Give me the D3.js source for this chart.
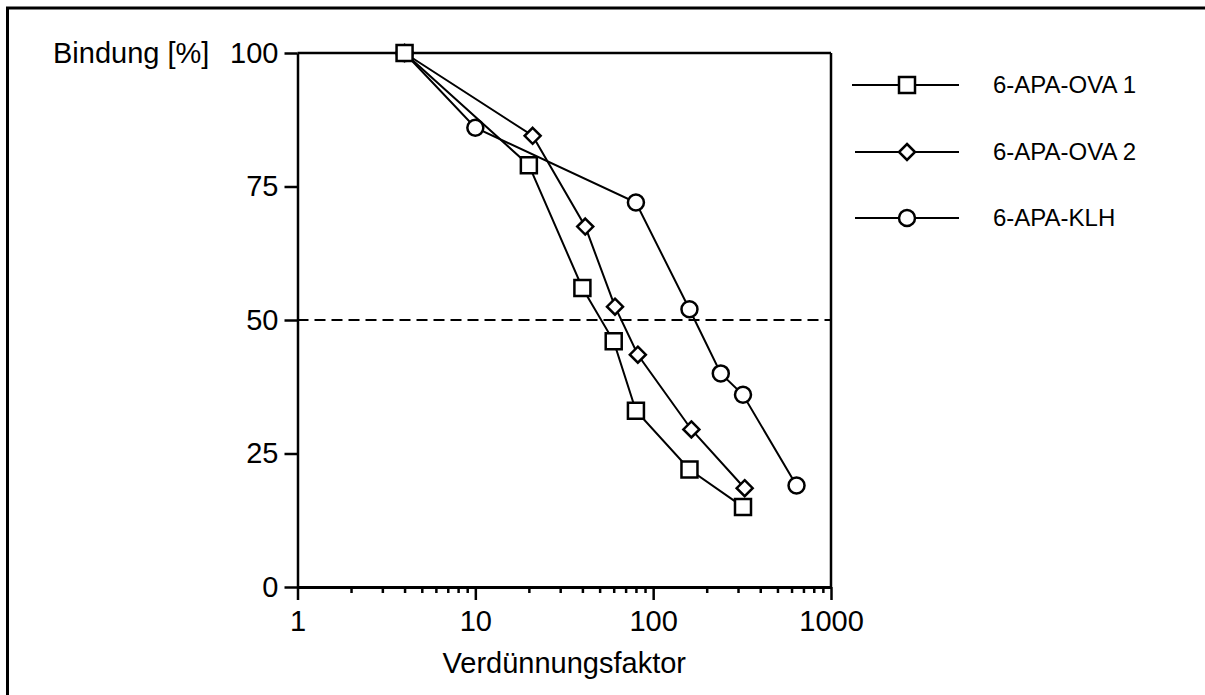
<!DOCTYPE html>
<html>
<head>
<meta charset="utf-8">
<script src="https://cdn.jsdelivr.net/npm/d3@7"></script>
<style>
  body { margin: 0; background: #fff; overflow: hidden; }
  svg { display: block; }
  text { font-family: "Liberation Sans", Arial, sans-serif; fill: #000; }
</style>
</head>
<body>
<script>
// series: [Verdünnungsfaktor, Bindung %]
const ova1 = [[4, 100], [20, 79], [40, 56], [60, 46], [80, 33], [160, 22], [320, 15]];
const ova2 = [[4, 100], [21, 84.5], [41.5, 67.5], [61, 52.5], [82, 43.5], [164, 29.5], [327, 18.5]];
const klh  = [[4, 100], [10, 86], [80, 72], [160, 52], [240, 40], [320, 36], [640, 19]];

const seriesNames = ['6-APA-OVA 1', '6-APA-OVA 2', '6-APA-KLH'];
const seriesShapes = ['square', 'diamond', 'circle'];
const xMajor = [1, 10, 100, 1000];
const yTicks = [0, 25, 50, 75, 100];
const refLine = 50;

const width = 1205;
const height = 695;
const fontSize = 29;

// scales
const xScale = d3.scaleLog().domain([1, 1000]).range([297.5, 831]);
const yScale = d3.scaleLinear().domain([0, 100]).range([587, 53]);

const svg = d3.select('body').append('svg')
  .attr('width', width)
  .attr('height', height);

// outer frame (only top and left visible)
svg.append('rect')
  .attr('x', 7.5).attr('y', 8)
  .attr('width', 1400).attr('height', 900)
  .attr('fill', 'none').attr('stroke', '#000').attr('stroke-width', 3);

// plot box top + right
svg.append('line')
  .attr('x1', xScale(1)).attr('x2', xScale(1000))
  .attr('y1', yScale(100)).attr('y2', yScale(100))
  .attr('stroke', '#000').attr('stroke-width', 2.5);
svg.append('line')
  .attr('x1', xScale(1000)).attr('x2', xScale(1000))
  .attr('y1', yScale(100)).attr('y2', yScale(0))
  .attr('stroke', '#000').attr('stroke-width', 2.5);

// minor x ticks
let xMinor = [];
[1, 10, 100].forEach(function(d) {
  for (let k = 2; k <= 9; k++) xMinor.push(d * k);
});

const minorAxis = svg.append('g')
  .attr('transform', `translate(0,${yScale(0)})`)
  .call(d3.axisBottom(xScale).tickValues(xMinor).tickSize(6).tickSizeOuter(0).tickFormat(''));
minorAxis.select('.domain').remove();
minorAxis.selectAll('line').attr('stroke-width', 2.5);

// X axis
const xAxis = svg.append('g')
  .attr('transform', `translate(0,${yScale(0)})`)
  .call(d3.axisBottom(xScale).tickValues(xMajor).tickSize(13).tickSizeOuter(0).tickPadding(10)
    .tickFormat(d3.format('d')));
xAxis.select('.domain').attr('stroke-width', 3);
xAxis.selectAll('line').attr('stroke-width', 2.5);
xAxis.selectAll('text').attr('font-size', fontSize).attr('font-family', '"Liberation Sans", Arial, sans-serif');

// Y axis
const yAxis = svg.append('g')
  .attr('transform', `translate(${xScale(1)},0)`)
  .call(d3.axisLeft(yScale).tickValues(yTicks).tickSize(13).tickSizeOuter(0).tickPadding(6));
yAxis.select('.domain').attr('stroke-width', 2.5);
yAxis.selectAll('line').attr('stroke-width', 2.5);
yAxis.selectAll('text').attr('font-size', fontSize).attr('font-family', '"Liberation Sans", Arial, sans-serif');

// dashed 50% line
svg.append('line')
  .attr('x1', xScale(1)).attr('x2', xScale(1000))
  .attr('y1', yScale(refLine)).attr('y2', yScale(refLine))
  .attr('stroke', '#000').attr('stroke-width', 2.2)
  .attr('stroke-dasharray', '11,6');

// labels
svg.append('text')
  .attr('x', 53).attr('y', yScale(100)).attr('dy', '0.35em')
  .attr('font-size', fontSize)
  .text('Bindung [%]');

svg.append('text')
  .attr('x', (xScale(1) + xScale(1000)) / 2).attr('y', 673)
  .attr('text-anchor', 'middle')
  .attr('font-size', fontSize)
  .text('Verdünnungsfaktor');

// marker drawing
function drawMarker(g, shape, cx, cy) {
  const s = g.append('path')
    .attr('fill', '#fff').attr('stroke', '#000').attr('stroke-width', 2.5);
  if (shape == 'square') {
    s.attr('d', `M${cx - 8},${cy - 8}h16v16h-16z`);
  } else if (shape == 'diamond') {
    s.attr('d', `M${cx},${cy - 8}L${cx + 8},${cy}L${cx},${cy + 8}L${cx - 8},${cy}z`);
  } else {
    s.attr('d', d3.arc()({innerRadius: 0, outerRadius: 8, startAngle: 0, endAngle: 2 * Math.PI}))
     .attr('transform', `translate(${cx},${cy})`);
  }
}

const line = d3.line().x(d => xScale(d[0])).y(d => yScale(d[1]));
const allSeries = [ova1, ova2, klh];

// draw back to front so the OVA 1 square sits on top at 100%
[2, 1, 0].forEach(function(i) {
  const g = svg.append('g');
  g.append('path')
    .datum(allSeries[i])
    .attr('d', line)
    .attr('fill', 'none').attr('stroke', '#000').attr('stroke-width', 2);
  allSeries[i].forEach(function(d) {
    drawMarker(g, seriesShapes[i], xScale(d[0]), yScale(d[1]));
  });
});

// legend
const legendY = [85, 152, 218];
seriesNames.forEach(function(name, i) {
  const g = svg.append('g');
  g.append('line')
    .attr('x1', i == 0 ? 852 : 855).attr('x2', 959)
    .attr('y1', legendY[i]).attr('y2', legendY[i])
    .attr('stroke', '#000').attr('stroke-width', 2);
  drawMarker(g, seriesShapes[i], 907, legendY[i]);
  g.append('text')
    .attr('x', 993).attr('y', legendY[i]).attr('dy', '0.35em')
    .attr('font-size', 24)
    .text(name);
});
</script>
</body>
</html>
